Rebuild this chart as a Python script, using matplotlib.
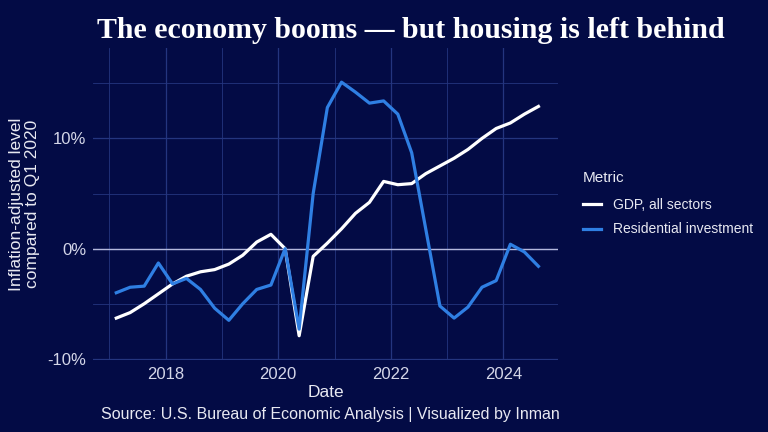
import matplotlib
matplotlib.use("Agg")
import matplotlib.pyplot as plt
import matplotlib.dates as mdates
import pandas as pd

# quarterly data, Q1 2017 .. Q3 2024, % vs Q1 2020
quarters = ["2017Q1", "2017Q2", "2017Q3", "2017Q4",
            "2018Q1", "2018Q2", "2018Q3", "2018Q4",
            "2019Q1", "2019Q2", "2019Q3", "2019Q4",
            "2020Q1", "2020Q2", "2020Q3", "2020Q4",
            "2021Q1", "2021Q2", "2021Q3", "2021Q4",
            "2022Q1", "2022Q2", "2022Q3", "2022Q4",
            "2023Q1", "2023Q2", "2023Q3", "2023Q4",
            "2024Q1", "2024Q2", "2024Q3"]
gdp = [-6.3, -5.8, -5.0, -4.1, -3.2, -2.5, -2.1, -1.9,
       -1.4, -0.6, 0.6, 1.3, 0.0, -7.9, -0.7, 0.5,
       1.8, 3.2, 4.2, 6.1, 5.8, 5.9, 6.8, 7.5,
       8.2, 9.0, 10.0, 10.9, 11.4, 12.2, 12.9]
resid = [-4.0, -3.5, -3.4, -1.3, -3.2, -2.7, -3.7, -5.4,
         -6.5, -5.0, -3.7, -3.3, 0.0, -7.3, 5.0, 12.8,
         15.1, 14.2, 13.2, 13.4, 12.2, 8.7, 1.8, -5.2,
         -6.3, -5.3, -3.5, -2.9, 0.4, -0.3, -1.6]
series_names = ["GDP, all sectors", "Residential investment"]

bg = "#030b45"
grid_col = "#24357f"
blue = "#2f7fe3"

dates = pd.PeriodIndex(quarters, freq="Q").to_timestamp(how="start") + pd.Timedelta(days=45)

plt.rcParams["font.family"] = ["Liberation Sans", "DejaVu Sans"]
fig = plt.figure(figsize=(7.68, 4.32), dpi=100, facecolor=bg)
ax = fig.add_axes([93 / 768, 72 / 432, 465 / 768, 312 / 432], facecolor=bg)

ax.plot(dates, gdp, color="white", linewidth=2.3, label=series_names[0], zorder=3)
ax.plot(dates, resid, color=blue, linewidth=2.3, label=series_names[1], zorder=3)
ax.axhline(0, color="#b4b8dc", linewidth=1.0, zorder=2)

ax.set_ylim(-10.1, 18.2)
ax.set_xlim(pd.Timestamp("2016-09-17"), pd.Timestamp("2024-12-20"))
ax.set_yticks([-10, 0, 10])
ax.set_yticklabels(["-10%", "0%", "10%"])
ax.set_yticks([-5, 5, 15], minor=True)
ax.xaxis.set_major_locator(mdates.YearLocator(2, month=1, day=1))
ax.set_xticks([pd.Timestamp(f"{y}-01-01") for y in (2017, 2019, 2021, 2023)], minor=True)
ax.xaxis.set_major_formatter(mdates.DateFormatter("%Y"))

ax.grid(True, which="major", color=grid_col, linewidth=0.9, zorder=0)
ax.grid(True, which="minor", color=grid_col, linewidth=0.6, zorder=0)
ax.tick_params(which="both", length=0, colors="#d4d6e8", labelsize=12)
ax.tick_params(axis="x", pad=5)
ax.tick_params(axis="y", pad=5)
for s in ax.spines.values():
    s.set_visible(False)

ax.set_xlabel("Date", color="#e8e9f2", fontsize=12.5, labelpad=2)
ax.set_ylabel("Inflation-adjusted level\ncompared to Q1 2020", color="#e8e9f2",
              fontsize=12.5, labelpad=5, linespacing=1.1)

fig.text(411 / 768, 1 - 30 / 432, "The economy booms \u2014 but housing is left behind",
         ha="center", va="center", color="white", fontsize=21.5, fontweight="bold",
         family=["Liberation Serif", "DejaVu Serif"])
fig.text(330 / 768, 1 - 414 / 432, "Source: U.S. Bureau of Economic Analysis | Visualized by Inman",
         ha="center", va="center", color="#e8e9f2", fontsize=11.5)

leg = ax.legend(loc="upper left", bbox_to_anchor=(570 / 768, 1 - 159 / 432),
                bbox_transform=fig.transFigure, frameon=False, title="Metric",
                fontsize=10, title_fontsize=11, handlelength=1.3, handletextpad=0.9,
                labelspacing=0.75, labelcolor="#e8e9f2")
leg.get_title().set_color("#e8e9f2")
leg._legend_box.align = "left"
leg._legend_box.sep = 9

fig.savefig("out.png", dpi=100, facecolor=bg)
